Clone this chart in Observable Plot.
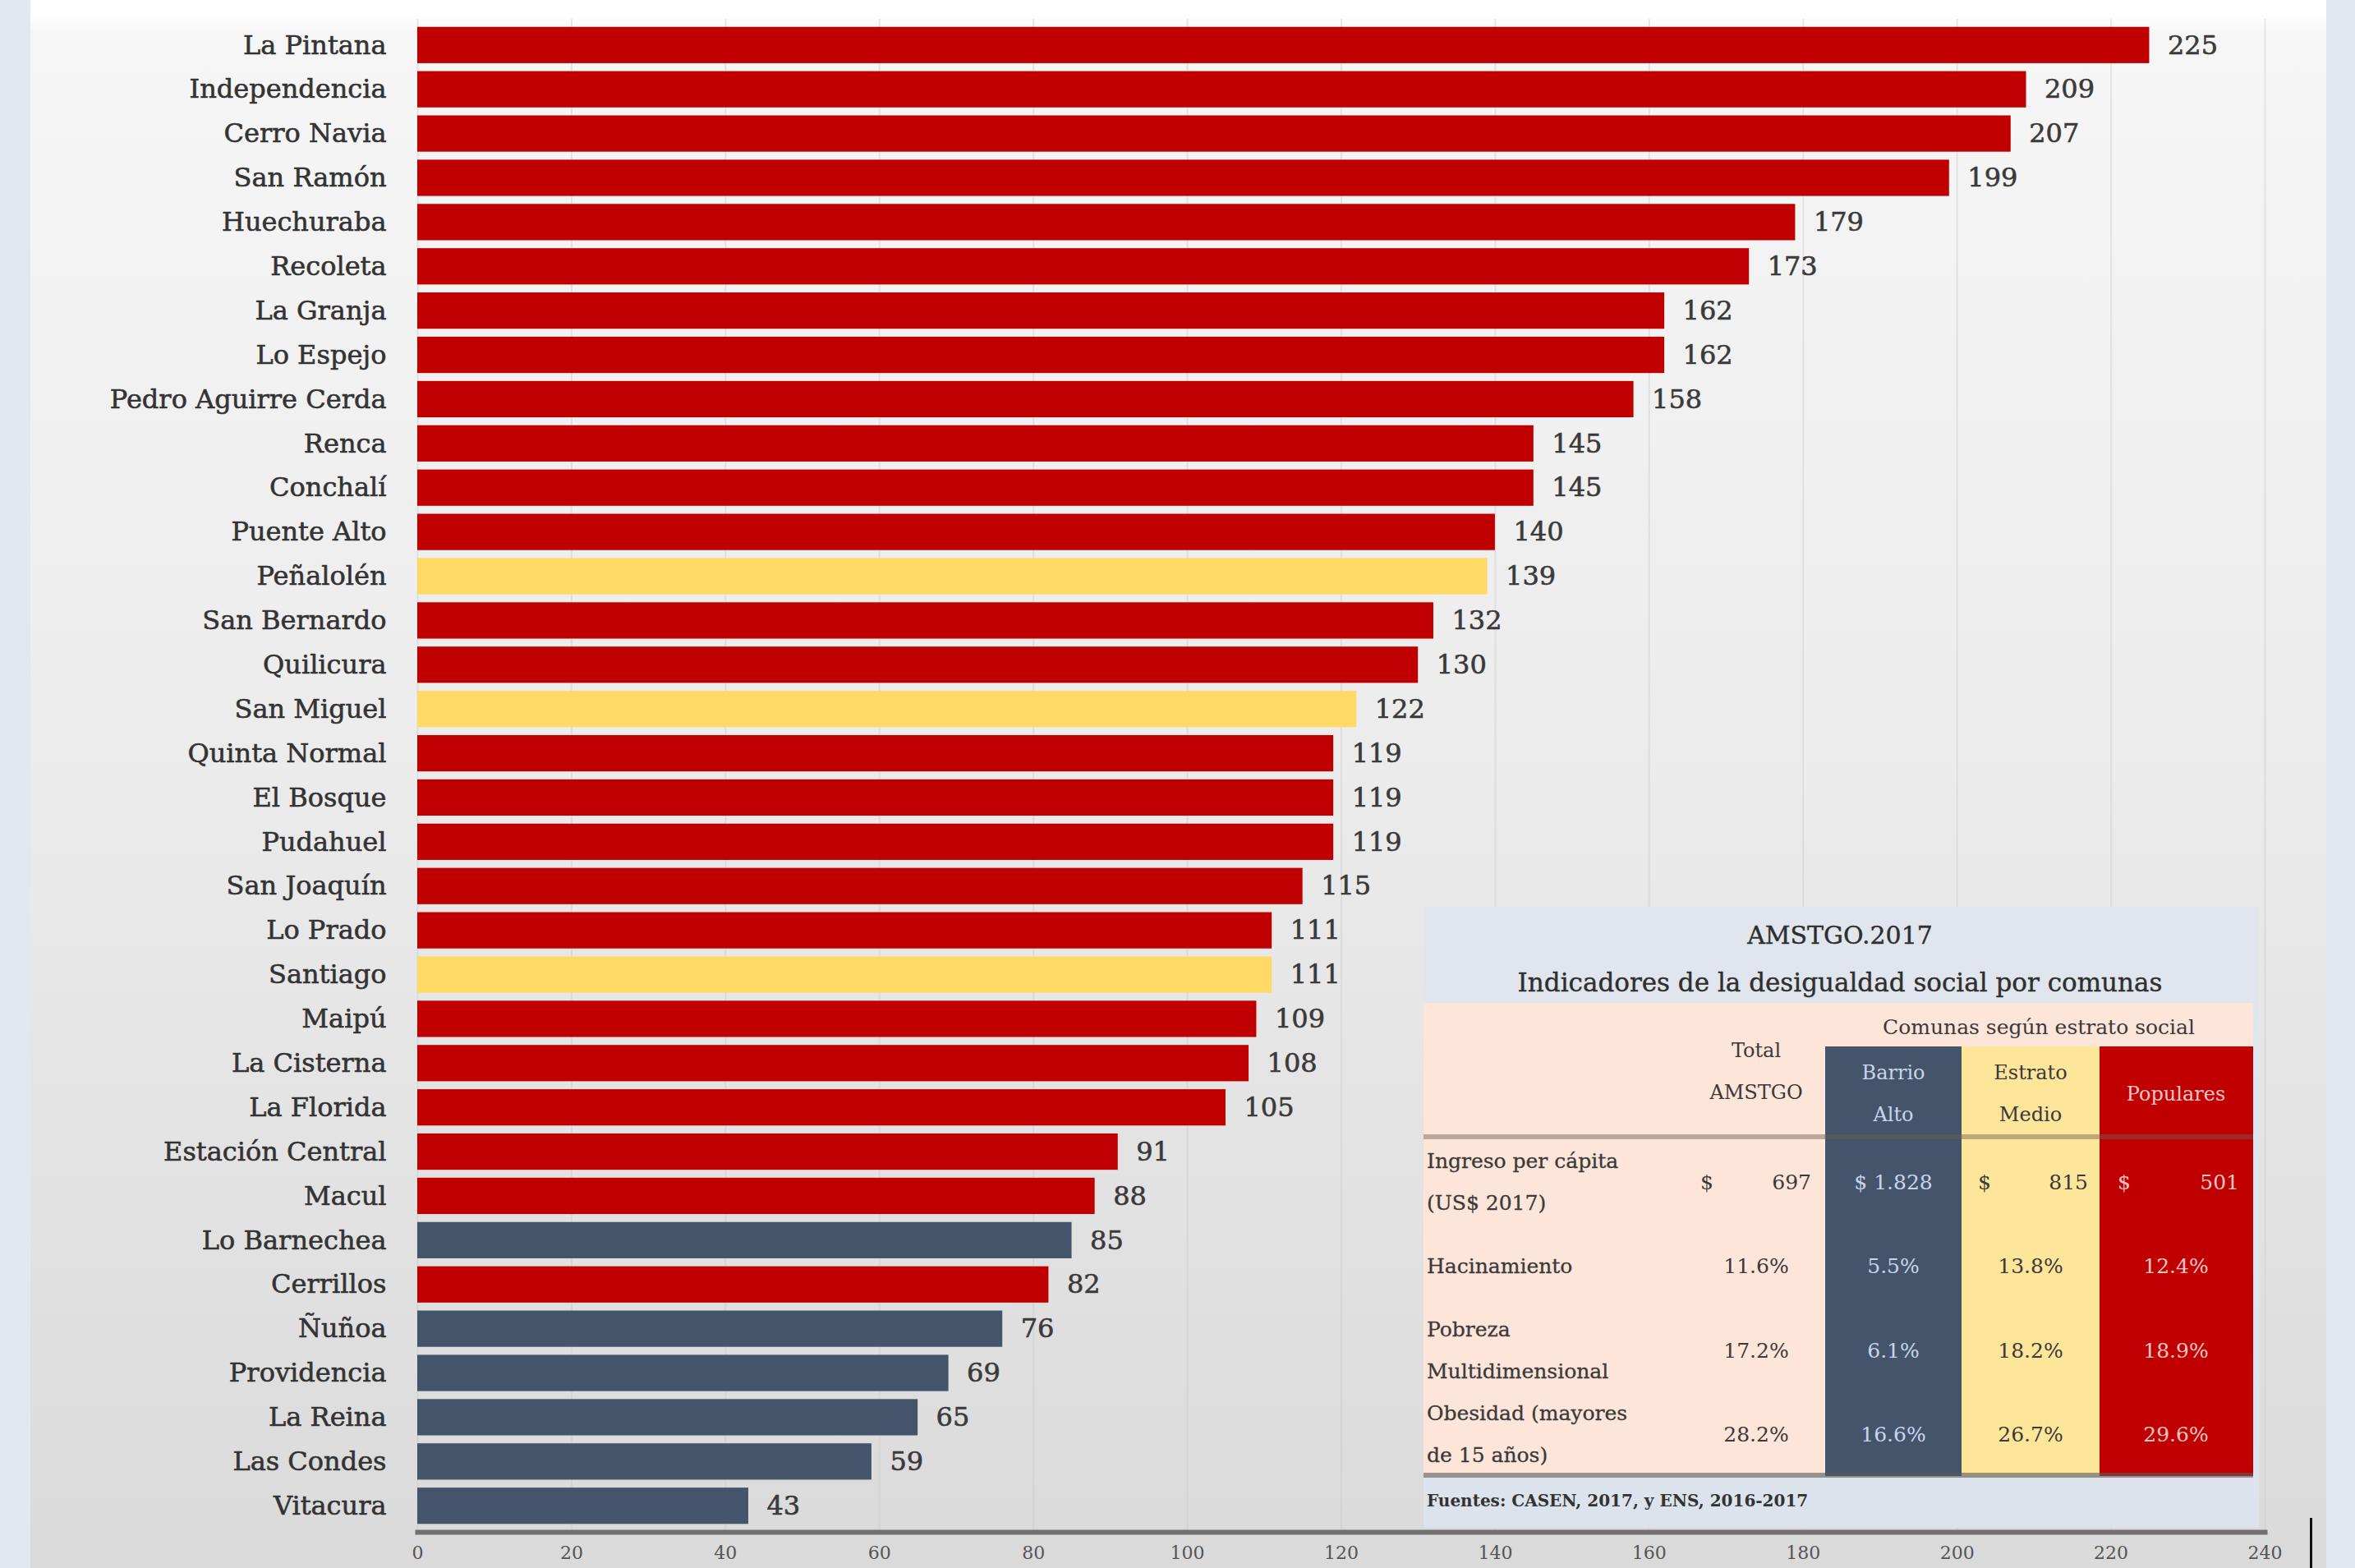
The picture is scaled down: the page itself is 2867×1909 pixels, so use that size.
<!DOCTYPE html>
<html>
<head>
<meta charset="utf-8">
<script src="https://cdn.jsdelivr.net/npm/d3@7"></script>
<script src="https://cdn.jsdelivr.net/npm/@observablehq/plot@0.6"></script>
<style>
  html, body { margin: 0; padding: 0; }
  body { width: 2867px; height: 1909px; overflow: hidden; background: #e3e7ef; position: relative; font-family: "DejaVu Serif", serif; }
  #panel { position: absolute; left: 37px; top: 0; width: 2795px; height: 1909px;
    background: linear-gradient(to bottom, #ffffff 0px, #ffffff 18px, #f6f6f6 40px, #ececec 900px, #dadada 1909px); }
  #chart { position: absolute; left: 37px; top: 0; }
  #chart svg g[aria-label="y-axis tick label"] text, #chart svg g[aria-label="text"] text { paint-order: stroke; stroke: #3a3a3a; stroke-width: 0.6px; }
  .abs { position: absolute; }
  .t1 { font-size: 30px; color: #2f2f2f; text-align: center; white-space: nowrap; transform: translate(-50%, -50%); -webkit-text-stroke: 0.4px #2f2f2f; }
  .cell { white-space: nowrap; transform: translate(-50%, -50%); text-align: center; line-height: 51px; }
  .lbl { white-space: nowrap; transform: translateY(-50%); line-height: 51px; font-size: 25px; color: #3a3a3a; -webkit-text-stroke: 0.3px #3a3a3a; }
  .money { display: flex; justify-content: space-between; transform: translateY(-50%); font-size: 25px; }
</style>
</head>
<body>
<div id="panel"></div>
<div id="chart"></div>
<div id="table"></div>
<script>
// ---- Chart data ----
const comunas = ["La Pintana","Independencia","Cerro Navia","San Ramón","Huechuraba","Recoleta","La Granja","Lo Espejo","Pedro Aguirre Cerda","Renca","Conchalí","Puente Alto","Peñalolén","San Bernardo","Quilicura","San Miguel","Quinta Normal","El Bosque","Pudahuel","San Joaquín","Lo Prado","Santiago","Maipú","La Cisterna","La Florida","Estación Central","Macul","Lo Barnechea","Cerrillos","Ñuñoa","Providencia","La Reina","Las Condes","Vitacura"];
const valores = [225,209,207,199,179,173,162,162,158,145,145,140,139,132,130,122,119,119,119,115,111,111,109,108,105,91,88,85,82,76,69,65,59,43];
const estratos = ["Populares","Populares","Populares","Populares","Populares","Populares","Populares","Populares","Populares","Populares","Populares","Populares","Estrato Medio","Populares","Populares","Estrato Medio","Populares","Populares","Populares","Populares","Populares","Estrato Medio","Populares","Populares","Populares","Populares","Populares","Barrio Alto","Populares","Barrio Alto","Barrio Alto","Barrio Alto","Barrio Alto","Barrio Alto"];
const estratoDomain = ["Populares","Estrato Medio","Barrio Alto"];
const estratoColors = ["#c00000","#ffd966","#44546a"];
const xTicks = [0,20,40,60,80,100,120,140,160,180,200,220,240];

// ---- Inset table data ----
const tablaTitulo = "AMSTGO.2017";
const tablaSubtitulo = "Indicadores de la desigualdad social por comunas";
const tablaGrupo = "Comunas según estrato social";
const tablaColumnas = ["Total\nAMSTGO","Barrio\nAlto","Estrato\nMedio","Populares"];
const tablaFilas = ["Ingreso per cápita\n(US$ 2017)","Hacinamiento","Pobreza\nMultidimensional","Obesidad (mayores\nde 15 años)"];
const colTotal = ["$|697","11.6%","17.2%","28.2%"];
const colAlto = ["$ 1.828","5.5%","6.1%","16.6%"];
const colMedio = ["$|815","13.8%","18.2%","26.7%"];
const colPopulares = ["$|501","12.4%","18.9%","29.6%"];
const fuente = "Fuentes: CASEN, 2017, y ENS, 2016-2017";

const data = comunas.map((c, i) => ({comuna: c, valor: valores[i], estrato: estratos[i]}));

const plot = Plot.plot({
  width: 2795,
  height: 1909,
  marginLeft: 471,
  marginRight: 75,
  marginTop: 23,
  marginBottom: 44,
  style: {background: "transparent", fontFamily: "DejaVu Serif, serif"},
  x: {domain: [0, 240]},
  y: {domain: comunas, padding: 0.18},
  color: {domain: estratoDomain, range: estratoColors},
  marks: [
    Plot.gridX(xTicks, {stroke: "#c8c8c8", strokeOpacity: 0.4, strokeWidth: 2}),
    Plot.barX(data, {x: "valor", y: "comuna", fill: "estrato"}),
    Plot.text(data, {x: "valor", y: "comuna", text: d => String(d.valor), dx: 22, textAnchor: "start", fontSize: 32, fill: "#3a3a3a"}),
    Plot.frame({anchor: "bottom", stroke: "#707070", strokeWidth: 6}),
    Plot.axisY({tickSize: 0, tickPadding: 38, fontSize: 32, color: "#333", label: null}),
    Plot.axisX(xTicks, {tickSize: 0, tickPadding: 17, fontSize: 22, color: "#555", label: null})
  ]
});
document.getElementById("chart").appendChild(plot);

// ---- Inset table (HTML) ----
const T = document.getElementById("table");
function add(html, cls, css) {
  const d = document.createElement("div");
  d.className = "abs " + (cls || "");
  Object.assign(d.style, css || {});
  d.innerHTML = html;
  T.appendChild(d);
  return d;
}
const br = s => s.replace("\n", "<br>");
add("", "", {left: "1733px", top: "1104px", width: "1017px", height: "756px", background: "linear-gradient(to bottom, #e1e6ee, #dde3ec)"});
add(tablaTitulo, "t1", {left: "2240px", top: "1138px"});
add(tablaSubtitulo, "t1", {left: "2240px", top: "1196px", fontSize: "31px"});
add("", "", {left: "1733px", top: "1221px", width: "1010px", height: "576px", background: "#fde5d9"});
add(tablaGrupo, "cell", {left: "2482px", top: "1250px", fontSize: "25px", color: "#3a3a3a"});

const cols = [
  {x: 2138, left: null, w: null, bg: null, color: "#3a3a3a", vals: colTotal, money: [2070, 2205]},
  {x: 2305, left: 2222, w: 166, bg: "#44546a", color: "#c9d4ec", vals: colAlto, money: null},
  {x: 2472, left: 2388, w: 168, bg: "#fde699", color: "#3a3a3a", vals: colMedio, money: [2408, 2542]},
  {x: 2649, left: 2556, w: 187, bg: "#c00000", color: "#f6c6c6", vals: colPopulares, money: [2578, 2726]}
];
const rowY = [1439, 1541, 1644, 1746];
cols.forEach((c) => {
  if (c.bg) add("", "", {left: c.left + "px", top: "1274px", width: c.w + "px", height: "523px", background: c.bg});
});
add("", "", {left: "1733px", top: "1381px", width: "1010px", height: "6px", background: "rgba(110,90,80,0.45)"});
add("", "", {left: "1733px", top: "1793px", width: "1010px", height: "6px", background: "rgba(90,90,90,0.6)"});
cols.forEach((c, j) => {
  add(br(tablaColumnas[j]), "cell", {left: c.x + "px", top: (j === 0 ? 1305 : 1332) + "px", fontSize: "24px", color: c.color});
  c.vals.forEach((v, i) => {
    if (v.includes("|")) {
      const [a, b] = v.split("|");
      add(`<span>${a}</span><span>${b}</span>`, "money", {left: c.money[0] + "px", top: rowY[i] + "px", width: (c.money[1] - c.money[0]) + "px", color: c.color});
    } else {
      add(v, "cell", {left: c.x + "px", top: rowY[i] + "px", fontSize: "25px", color: c.color});
    }
  });
});
tablaFilas.forEach((r, i) => {
  add(br(r), "lbl", {left: "1737px", top: rowY[i] + "px"});
});
add(fuente, "", {left: "1737px", top: "1815px", fontSize: "20px", fontWeight: "bold", color: "#333", whiteSpace: "nowrap"});
add("", "", {left: "2812px", top: "1848px", width: "3px", height: "61px", background: "#111"});
</script>
</body>
</html>
